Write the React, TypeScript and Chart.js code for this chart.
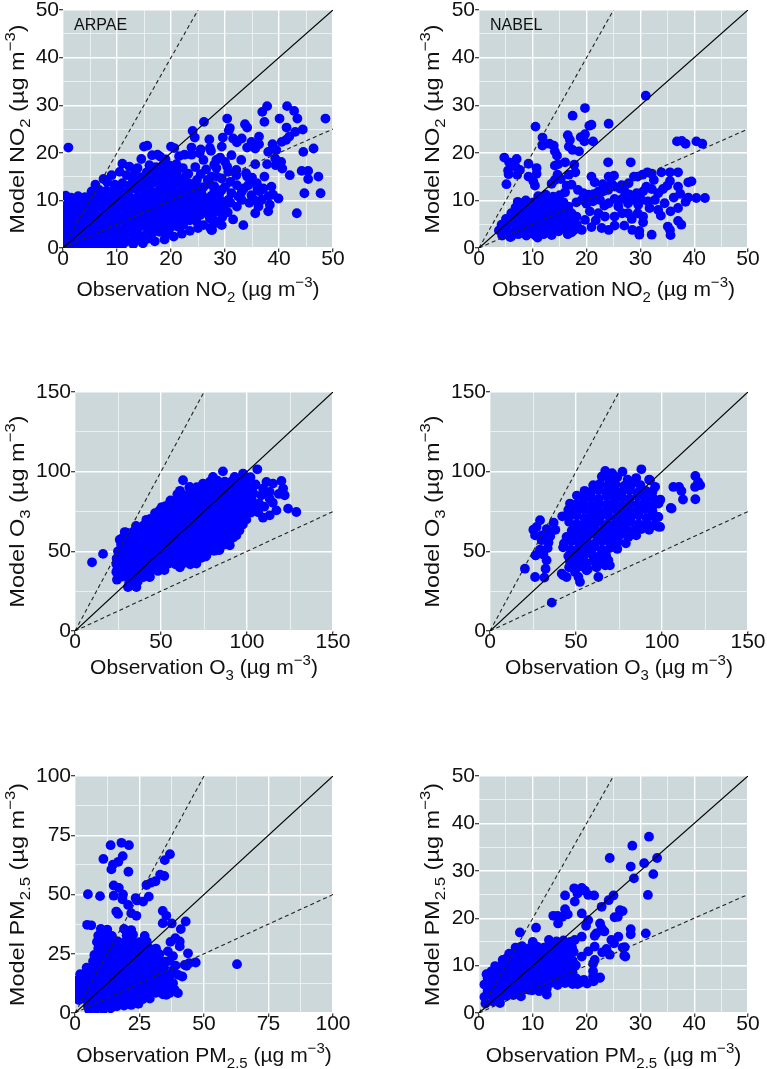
import React, { useEffect, useRef } from 'react';
import { Chart, registerables } from 'chart.js';
Chart.register(...registerables);

const FONT = '"Liberation Sans", Arial, Helvetica, sans-serif';
const BG = '#ccd8da';
const BLUE = '#0000ff';

// ---------- data (flat x,y pairs) ----------
const arpaeNO2: number[] = [
  0.3,0.4, 1.6,0.6, 3.0,0.3, 4.3,0.5, 5.7,0.4, 7.0,0.7, 8.4,0.3, 9.8,0.6, 11.1,0.8,
  0.8,1.8, 2.1,1.5, 3.5,1.9, 4.9,1.6, 6.2,1.7, 7.6,2.0, 9.0,1.5, 10.3,1.8, 11.7,1.4, 13.1,1.9, 14.4,1.6, 15.8,2.0,
  0.2,3.1, 1.5,2.9, 2.9,3.2, 4.2,2.8, 5.6,3.0, 7.0,3.3, 8.3,2.9, 9.7,3.1, 11.1,2.8, 12.4,3.2, 13.8,3.0, 15.2,2.7, 16.5,3.1, 17.9,3.4, 19.3,3.2,
  0.7,4.2, 2.0,4.5, 3.4,4.1, 4.8,4.4, 6.1,4.2, 7.5,4.6, 8.9,4.3, 10.2,4.0, 11.6,4.4, 13.0,4.2, 14.3,4.5, 15.7,4.1, 17.1,4.3, 18.4,4.6, 19.8,4.2, 21.2,4.5, 22.3,4.9,
  0.3,5.5, 1.6,5.8, 3.0,5.4, 4.4,5.7, 5.7,5.5, 7.1,5.9, 8.5,5.6, 9.8,5.3, 11.2,5.7, 12.6,5.5, 13.9,5.8, 15.3,5.4, 16.7,5.6, 18.0,5.9, 19.4,5.5, 20.8,5.7, 22.1,5.4, 23.5,5.8, 24.7,5.6,
  0.8,6.8, 2.2,7.1, 3.5,6.7, 4.9,7.0, 6.3,6.8, 7.6,7.2, 9.0,6.9, 10.4,6.6, 11.7,7.0, 13.1,6.8, 14.5,7.1, 15.8,6.7, 17.2,6.9, 18.6,7.2, 19.9,6.8, 21.3,7.0, 22.7,6.7, 24.0,7.1, 25.4,6.9, 26.6,7.3,
  0.4,8.1, 1.7,8.4, 3.1,8.0, 4.5,8.3, 5.8,8.1, 7.2,8.5, 8.6,8.2, 9.9,7.9, 11.3,8.3, 12.7,8.1, 14.0,8.4, 15.4,8.0, 16.8,8.2, 18.1,8.5, 19.5,8.1, 20.9,8.3, 22.2,8.0, 23.6,8.4, 25.0,8.2, 26.3,8.6, 27.6,8.3,
  0.9,9.4, 2.2,9.7, 3.6,9.3, 5.0,9.6, 6.4,9.4, 7.7,9.8, 9.1,9.5, 10.5,9.2, 11.8,9.6, 13.2,9.4, 14.6,9.7, 15.9,9.3, 17.3,9.5, 18.7,9.8, 20.0,9.4, 21.4,9.6, 22.8,9.3, 24.1,9.7, 25.5,9.5, 26.8,9.9,
  0.5,11.0, 1.5,10.6, 2.8,10.9, 4.1,10.7, 5.5,10.5, 6.9,10.8, 8.2,11.0, 9.6,10.7, 11.0,10.4, 12.3,10.8, 13.7,10.6, 15.1,10.9, 16.4,10.5, 17.8,10.7, 19.2,11.0, 20.5,10.6, 21.9,10.8, 23.3,10.5, 24.6,10.9, 26.0,10.7, 27.2,10.4,
  5.3,11.9, 6.7,12.2, 8.0,12.0, 9.4,12.3, 10.8,11.9, 12.1,12.1, 13.5,12.4, 14.9,12.0, 16.2,12.2, 17.6,11.9, 19.0,12.3, 20.3,12.1, 21.7,11.8, 23.1,12.2, 24.4,12.0, 25.6,11.7,
  9.6,13.3, 11.0,13.6, 12.4,13.2, 13.7,13.5, 15.1,13.3, 16.5,13.7, 17.8,13.4, 19.2,13.1, 20.6,13.5, 21.9,13.3, 23.3,13.6, 24.5,13.2,
  12.9,14.6, 14.3,14.9, 15.6,14.5, 17.0,14.8, 18.4,14.6, 19.7,14.9, 21.1,14.5, 22.4,14.8,
  15.5,15.9, 16.9,16.2, 18.2,15.8, 19.6,16.1, 21.0,15.9,
  1.0,21.1, 6.0,13.3, 7.5,14.5, 8.2,13.8, 9.0,15.3, 10.5,16.0, 11.0,17.7, 11.8,15.3, 12.3,17.1, 13.3,15.7, 13.8,16.8,
  14.5,18.7, 15.0,21.3, 15.6,21.5, 16.0,17.4, 16.5,19.5, 17.2,17.0, 17.5,19.6, 18.0,19.2, 18.6,17.5, 19.0,18.6, 19.8,17.3,
  20.0,21.3, 20.6,21.0, 21.0,17.6, 21.5,19.3, 22.2,16.8, 22.5,19.6, 23.2,15.6, 23.8,19.6, 24.5,17.0, 24.8,14.3, 25.3,19.9,
  25.5,15.5, 26.0,12.8, 26.0,18.5, 26.5,16.5, 27.0,13.5, 27.5,15.0, 27.6,10.0, 28.0,12.5, 28.0,17.5, 28.3,9.3, 29.0,11.5,
  29.0,8.2, 27.8,6.0, 28.5,5.3, 27.3,4.2, 27.6,3.8, 26.0,4.8, 25.0,4.2, 23.5,3.6, 22.0,3.0, 20.5,2.4, 18.8,1.8, 17.0,1.4, 14.8,1.0, 13.0,0.8,
  37.8,29.8, 41.5,29.8, 42.8,28.8, 36.9,28.6, 37.3,26.5, 43.4,27.2, 40.1,27.2, 48.6,27.2, 30.4,27.2, 26.1,26.5,
  41.4,25.3, 44.4,24.9, 43.0,24.4, 33.7,26.0, 34.1,25.3, 24.0,24.6, 24.4,23.2, 27.1,22.8, 30.7,24.7, 30.9,25.2,
  29.6,23.2, 31.5,23.0, 32.2,22.2, 33.1,23.0, 34.9,22.3, 36.3,23.4, 36.3,21.8, 40.5,22.3, 41.3,22.7, 41.9,23.4,
  38.8,21.8, 34.1,21.1, 35.6,20.9, 38.0,20.2, 39.5,20.6, 29.4,21.3, 27.4,20.4, 27.2,21.0, 25.5,20.7, 23.8,21.1,
  44.5,20.2, 46.4,20.9, 33.0,18.5, 31.2,19.5, 29.1,19.0, 30.0,18.1, 28.4,18.5, 35.6,17.6, 37.8,17.6, 39.3,18.8,
  39.4,17.4, 40.4,18.1, 40.6,16.7, 42.0,15.3, 44.2,16.2, 45.4,16.2, 47.3,15.0, 45.4,14.5, 44.7,11.5, 47.7,11.5,
  43.3,7.3, 39.9,10.4, 38.6,12.9, 38.0,10.9, 37.1,12.5, 35.9,13.6, 34.3,13.2, 34.1,15.0, 32.1,15.3, 30.6,16.0,
  29.4,14.6, 31.0,13.9, 32.2,13.2, 33.1,11.8, 31.2,11.5, 29.4,12.2, 29.1,10.1, 30.6,10.1, 32.2,8.7, 33.1,10.1,
  34.9,11.1, 36.2,8.7, 36.8,10.1, 35.6,7.3, 33.4,4.8, 29.4,4.8, 27.5,3.8, 28.5,5.5, 27.2,6.2, 29.9,8.7, 28.1,7.6,
  38.0,7.7, 38.3,9.1, 36.4,11.9, 38.9,11.2, 37.3,15.0, 33.9,15.7, 30.4,17.1, 32.1,16.4, 28.4,16.8,
  26.5,9.5, 27.5,11.0, 28.0,13.0, 29.5,6.5, 30.5,7.5, 31.5,6.0, 31.0,9.5, 32.5,10.8, 30.0,12.8, 33.5,12.5,
  28.5,15.0, 26.8,14.3, 27.8,9.0, 26.2,7.8, 34.5,9.5, 35.5,10.0, 36.0,12.5, 35.0,14.8,
];

const nabelNO2: number[] = [
  31.0,32.0, 19.7,29.4, 17.4,27.8, 24.1,26.1, 10.5,25.5, 20.5,25.7, 20.9,25.9, 19.7,23.9, 16.5,23.7, 18.9,23.3,
  11.8,23.2, 21.2,22.4, 11.8,21.5, 13.1,21.9, 13.9,21.5, 14.1,20.3, 16.9,22.7, 16.7,21.3, 17.4,20.6, 18.6,20.3,
  19.6,22.4, 14.5,19.4, 14.1,17.3, 14.7,17.6, 16.0,18.0, 17.7,17.5, 24.0,18.0, 28.2,18.0, 40.4,22.4, 36.8,22.4,
  37.7,22.5, 38.4,21.9, 41.5,21.9, 42.0,10.5, 4.7,19.0, 5.6,18.0, 7.0,18.7, 9.2,17.7, 6.8,17.1, 7.6,16.4,
  7.1,15.4, 5.4,16.3, 5.5,15.5, 5.1,13.4, 10.7,16.8, 10.7,15.6, 10.1,14.0, 9.2,15.0, 10.4,13.1, 14.6,15.4,
  14.1,14.3, 13.5,13.5, 15.2,14.5, 16.7,15.4, 17.9,15.9, 17.2,13.3, 16.3,13.1, 16.0,11.7, 20.9,15.0, 24.1,15.0,
  25.1,15.2, 24.6,13.6, 28.8,15.0, 29.5,15.0, 30.4,15.4, 31.3,15.9, 32.1,15.6, 32.5,14.3, 33.9,15.9, 35.5,15.9,
  37.0,15.9, 35.5,14.1, 35.0,13.1, 37.0,12.9, 37.4,11.4, 38.9,13.8, 39.5,14.0, 35.6,7.7, 37.0,8.4, 38.4,9.7,
  38.9,10.6, 40.4,10.5, 37.0,5.7, 37.6,4.9, 35.1,4.5, 35.5,3.8, 35.6,2.7, 32.1,2.8, 29.8,2.8, 29.8,3.6,
  28.5,3.8, 27.0,4.7, 25.2,4.7, 24.1,3.8, 22.8,4.2, 20.9,4.4, 19.1,3.8, 17.2,3.3, 16.5,2.9, 10.9,2.2,
  5.8,2.3, 4.3,2.6, 9.8,3.1,
  18.4,12.2, 19.4,11.5, 20.3,11.2, 21.3,11.3, 22.2,11.9, 23.1,11.9, 24.0,12.2, 25.2,12.9, 26.2,12.5, 27.1,11.9,
  28.0,11.2, 29.3,11.5, 30.5,11.9, 31.1,12.9, 32.1,12.4, 33.3,11.5, 32.7,10.1, 31.4,9.8, 30.2,10.1, 29.6,9.1,
  28.7,10.1, 27.7,9.4, 26.6,10.3, 25.9,8.7, 25.2,10.3, 24.1,9.4, 23.3,8.9, 22.5,10.1, 21.2,9.8, 20.0,9.3,
  19.1,10.1, 18.1,9.6, 20.6,7.7, 22.2,7.3, 23.4,6.6, 25.2,6.6, 26.6,7.3, 27.7,7.3, 29.5,7.3, 30.5,6.6,
  31.7,8.4, 33.3,8.0, 28.4,6.1, 30.5,5.4, 19.7,5.9, 21.7,5.8, 18.1,6.6, 17.7,5.1,
  34.2,12.4, 36.2,10.6, 34.5,9.4, 33.8,6.8, 26.5,13.2, 23.0,13.4, 21.5,13.8, 27.8,13.6,
  4.5,2.8, 6.0,2.4, 7.3,2.9, 8.8,2.6, 10.5,2.6, 12.0,2.9, 13.5,2.7,
  3.7,3.7, 5.1,3.9, 6.5,3.5, 7.9,3.8, 9.3,3.6, 10.6,3.9, 12.0,3.6, 13.4,3.8, 14.8,3.5, 16.2,3.9, 17.6,3.7,
  4.2,4.9, 5.6,5.2, 7.0,4.7, 8.4,5.0, 9.8,4.8, 11.2,5.1, 12.6,4.7, 14.0,5.0, 15.4,4.8, 16.8,5.2, 18.2,4.9,
  5.0,6.1, 6.4,6.4, 7.8,6.0, 9.2,6.3, 10.6,6.1, 12.0,6.4, 13.4,6.0, 14.8,6.3, 16.2,6.1, 17.6,6.4,
  6.0,7.3, 7.4,7.6, 8.8,7.2, 10.2,7.5, 11.6,7.3, 13.0,7.6, 14.4,7.2, 15.8,7.5, 17.2,7.3,
  6.8,8.5, 8.2,8.8, 9.6,8.4, 11.0,8.7, 12.4,8.5, 13.8,8.8, 15.2,8.4, 16.6,8.7,
  7.2,9.7, 8.7,10.0, 10.1,9.6, 11.5,9.9, 12.9,9.7, 14.3,10.0, 15.7,9.6,
  11.0,10.9, 12.4,11.2, 13.8,10.8, 15.0,11.1,
];

const arpaeO3: number[] = [
  31.8,28.3, 35.7,27.6, 33.7,31.8, 31.5,30.5, 36.5,31.0,
  27.5,34.2, 31.5,33.8, 35.5,34.3, 39.5,33.7, 43.5,34.1,
  24.5,38.0, 26.8,38.3, 31.0,37.7, 35.3,38.2, 39.6,37.8, 43.9,38.3, 48.2,37.7, 52.0,38.2,
  24.0,42.0, 28.3,42.3, 32.6,41.7, 36.9,42.2, 41.2,41.8, 45.5,42.3, 49.8,41.7, 54.1,42.2, 58.4,41.8, 62.7,42.3, 67.0,41.9,
  24.2,45.5, 26.2,46.2, 30.5,45.8, 34.8,46.3, 39.1,45.7, 43.4,46.2, 47.7,45.8, 52.0,46.3, 56.3,45.7, 60.6,46.2, 64.9,45.8, 69.2,46.3, 73.5,45.9, 76.0,46.8,
  25.0,50.0, 29.3,50.3, 33.6,49.7, 37.9,50.2, 42.2,49.8, 46.5,50.3, 50.8,49.7, 55.1,50.2, 59.4,49.8, 63.7,50.3, 68.0,49.7, 72.3,50.2, 76.6,49.8, 80.9,50.3, 84.0,50.8,
  26.8,54.2, 31.0,53.8, 35.3,54.3, 39.6,53.7, 43.9,54.2, 48.2,53.8, 52.5,54.3, 56.8,53.7, 61.1,54.2, 65.4,53.8, 69.7,54.3, 74.0,53.7, 78.3,54.2, 82.6,53.8, 86.9,54.3, 89.5,54.8,
  27.5,58.3, 31.8,57.7, 36.1,58.2, 40.4,57.8, 44.7,58.3, 49.0,57.7, 53.3,58.2, 57.6,57.8, 61.9,58.3, 66.2,57.7, 70.5,58.2, 74.8,57.8, 79.1,58.3, 83.4,57.7, 87.7,58.2, 92.0,58.6,
  29.8,61.8, 33.7,62.2, 38.0,61.7, 42.3,62.3, 46.6,61.8, 50.9,62.2, 55.2,61.7, 59.5,62.3, 63.8,61.8, 68.1,62.2, 72.4,61.7, 76.7,62.3, 81.0,61.8, 85.3,62.2, 89.6,61.7, 93.9,62.3, 95.6,63.0,
  35.5,66.0, 39.8,66.3, 44.1,65.7, 48.4,66.2, 52.7,65.8, 57.0,66.3, 61.3,65.7, 65.6,66.2, 69.9,65.8, 74.2,66.3, 78.5,65.7, 82.8,66.2, 87.1,65.8, 91.4,66.3, 95.7,65.7, 97.6,66.8,
  41.5,69.8, 43.7,70.3, 48.0,69.7, 52.3,70.2, 56.6,69.8, 60.9,70.3, 65.2,69.7, 69.5,70.2, 73.8,69.8, 78.1,70.3, 82.4,69.7, 86.7,70.2, 91.0,69.8, 95.3,70.3, 99.6,69.9,
  46.5,74.0, 50.8,74.3, 55.1,73.7, 59.4,74.2, 63.7,73.8, 68.0,74.3, 72.3,73.7, 76.6,74.2, 80.9,73.8, 85.2,74.3, 89.5,73.7, 93.8,74.2, 98.1,73.8, 102.4,74.3,
  50.5,77.8, 52.7,78.3, 57.0,77.7, 61.3,78.2, 65.6,77.8, 69.9,78.3, 74.2,77.7, 78.5,78.2, 82.8,77.8, 87.1,78.3, 91.4,77.7, 95.7,78.2, 100.0,77.8, 103.8,78.3,
  55.5,82.0, 59.8,82.3, 64.1,81.7, 68.4,82.2, 72.7,81.8, 77.0,82.3, 81.3,81.7, 85.6,82.2, 89.9,81.8, 94.2,82.3, 98.5,81.7, 102.8,82.2,
  59.5,85.8, 61.7,86.3, 66.0,85.7, 70.3,86.2, 74.6,85.8, 78.9,86.3, 83.2,85.7, 87.5,86.2, 91.8,85.8, 96.1,86.3, 100.4,85.7, 103.8,86.2,
  66.5,90.0, 70.8,90.3, 75.1,89.7, 79.4,90.2, 83.7,89.8, 88.0,90.3, 92.3,89.7, 96.6,90.2, 100.9,89.8, 103.5,90.5,
  78.5,93.8, 82.8,94.3, 87.1,93.7, 91.4,94.2, 95.7,93.8, 99.5,94.0,
  9.9,43.1, 16.3,48.4, 25.0,42.7, 24.0,37.0, 24.4,32.2, 29.8,56.9, 29.5,61.8, 28.9,62.1, 26.0,57.3, 35.7,64.2,
  41.5,67.4, 49.2,75.8, 55.1,80.0, 61.0,88.0, 62.8,94.6, 66.7,90.4, 74.4,92.5, 80.2,96.7, 86.0,100.2, 92.8,96.7,
  97.7,98.8, 106.0,101.5, 109.3,89.4, 111.3,93.5, 115.1,92.5, 120.0,94.2, 121.0,89.4, 121.9,85.2, 113.2,83.0, 108.3,85.2,
  113.2,87.3, 123.9,76.8, 128.7,74.7, 117.1,75.7, 113.2,72.6, 109.3,71.1, 107.0,80.0, 110.0,78.0, 106.5,74.5, 115.0,80.5,
  118.5,86.0, 105.0,92.0, 102.0,96.5, 90.0,53.8, 93.8,60.0, 82.2,50.6, 76.4,47.5, 70.6,42.3, 61.0,40.0, 43.4,33.9, 30.8,27.6,
];

const nabelO3: number[] = [
  67.0,100.5, 71.0,99.0, 77.0,100.0, 88.0,101.5,
  65.0,97.0, 69.0,95.5, 74.0,96.5, 80.0,95.0, 85.0,96.0, 92.5,95.0,
  60.0,91.5, 64.0,92.5, 68.5,91.0, 73.0,92.0, 78.0,91.0, 83.0,92.5, 87.5,91.5, 96.0,90.5,
  55.0,88.0, 59.0,87.5, 63.5,88.5, 68.0,87.0, 72.5,88.0, 77.0,87.5, 81.5,88.5, 86.0,87.0, 90.5,88.0, 94.5,87.5,
  50.5,85.0, 54.0,83.5, 58.5,84.0, 63.0,83.0, 67.5,84.5, 72.0,83.5, 76.5,84.0, 81.0,83.0, 85.5,84.5, 90.0,83.5, 94.5,84.0, 99.0,82.5,
  46.5,80.0, 50.0,79.5, 54.5,80.5, 59.0,79.0, 63.5,80.0, 68.0,79.5, 72.5,80.5, 77.0,79.0, 81.5,80.0, 86.0,79.5, 90.5,80.5, 95.0,79.0, 98.0,80.0,
  45.5,76.0, 49.5,75.5, 54.0,76.5, 58.5,75.0, 63.0,76.0, 67.5,75.5, 72.0,76.5, 76.5,75.0, 81.0,76.0, 85.5,75.5, 90.0,76.5, 94.5,75.0,
  42.0,72.0, 46.0,71.5, 50.5,72.5, 55.0,71.0, 59.5,72.0, 64.0,71.5, 68.5,72.5, 73.0,71.0, 77.5,72.0, 82.0,71.5, 86.5,72.5, 91.0,71.0, 95.0,72.0, 97.5,71.5,
  37.0,68.0, 46.0,68.5, 50.5,67.0, 55.0,68.0, 59.5,67.5, 64.0,68.5, 68.5,67.0, 73.0,68.0, 77.5,67.5, 82.0,68.5, 86.5,67.0, 91.0,68.0, 95.5,66.5,
  33.0,64.0, 38.0,63.5, 47.5,63.0, 52.0,64.0, 56.5,63.5, 61.0,64.5, 65.5,63.0, 70.0,64.0, 74.5,63.5, 79.0,64.5, 83.5,63.0, 88.0,64.0, 92.5,63.5, 97.5,65.5,
  30.0,60.0, 35.0,59.5, 44.5,59.0, 49.0,60.0, 53.5,59.5, 58.0,60.5, 62.5,59.0, 67.0,60.0, 71.5,59.5, 76.0,60.5, 80.5,59.0, 85.0,60.0,
  30.0,57.0, 34.0,55.5, 43.0,55.0, 47.5,56.5, 52.0,55.5, 56.5,56.0, 61.0,55.0, 65.5,56.5, 70.0,55.5, 74.5,56.0, 79.0,55.0,
  29.0,51.0, 33.5,52.0, 42.5,52.5, 47.0,51.0, 51.5,52.0, 56.0,51.5, 60.5,52.5, 65.0,51.0, 69.5,52.0, 74.0,51.5,
  26.5,47.5, 31.0,48.0, 45.5,47.0, 50.0,48.0, 54.5,47.5, 59.0,48.5, 63.5,47.0, 67.5,47.5,
  32.9,44.4, 46.5,43.5, 51.0,44.5, 55.5,43.0, 60.0,44.0, 64.5,43.5, 68.8,44.4,
  32.3,39.1, 46.0,40.0, 50.0,39.5, 53.5,40.5, 57.0,39.0, 62.0,40.0, 67.0,41.2, 69.7,41.2,
  20.3,39.1, 26.2,33.9, 31.6,33.5, 35.9,17.8, 29.1,69.5, 27.1,65.3, 25.2,63.6, 26.2,60.0, 26.6,47.5, 29.7,50.6,
  41.7,36.0, 42.6,34.9, 44.5,33.9, 49.4,37.0, 51.4,33.9, 52.3,30.8, 56.2,38.1, 63.0,33.9,
  105.1,77.2, 109.9,90.4, 111.3,87.9, 112.2,82.5, 119.4,97.3, 121.0,93.6, 122.2,91.5, 119.4,82.7, 106.6,90.4, 98.9,65.3,
  105.6,76.8, 119.2,90.4, 93.0,94.6, 98.8,82.0, 97.9,71.6,
];

const arpaePM25: number[] = [
  5.5,1.2, 8.3,1.8, 11.0,1.5, 13.8,2.0,
  5.0,2.8, 7.8,3.2, 10.6,2.9, 13.4,3.3, 16.2,2.8, 19.0,3.1, 21.8,3.4, 24.6,3.9,
  1.5,5.5, 3.8,5.9, 6.6,5.6, 9.4,6.0, 12.2,5.5, 15.0,5.8, 17.8,5.6, 20.6,6.0, 23.4,5.5, 26.2,5.8, 29.0,6.1,
  0.8,8.3, 3.3,8.6, 6.1,8.2, 8.9,8.5, 11.7,8.3, 14.5,8.7, 17.3,8.2, 20.1,8.5, 22.9,8.3, 25.7,8.6, 28.5,8.2, 31.3,8.5, 34.1,7.9, 35.4,7.7,
  0.5,11.0, 2.3,11.3, 5.1,10.9, 7.9,11.2, 10.7,11.0, 13.5,11.4, 16.3,10.9, 19.1,11.2, 21.9,11.0, 24.7,11.3, 27.5,10.9, 30.3,11.2, 33.1,11.0, 35.9,11.3, 38.6,9.8,
  0.8,13.7, 3.3,14.0, 6.1,13.6, 8.9,13.9, 11.7,13.7, 14.5,14.1, 17.3,13.6, 20.1,13.9, 22.9,13.7, 25.7,14.0, 28.5,13.6, 31.3,13.9, 34.1,13.7, 36.7,12.9,
  2.0,16.4, 4.6,16.7, 7.4,16.3, 10.2,16.6, 13.0,16.4, 15.8,16.8, 18.6,16.3, 21.4,16.6, 24.2,16.4, 27.0,16.7, 29.8,16.3, 32.6,16.6, 35.4,16.4, 38.0,18.2,
  4.5,19.1, 6.5,19.4, 9.3,19.0, 12.1,19.3, 14.9,19.1, 17.7,19.5, 20.5,19.0, 23.3,19.3, 26.1,19.1, 28.9,19.4, 31.7,19.0, 34.5,19.3,
  7.0,21.8, 9.8,22.1, 12.6,21.7, 15.4,22.0, 18.2,21.8, 21.0,22.2, 23.8,21.7, 26.6,22.0, 29.4,21.8, 32.2,22.1, 35.0,21.7,
  7.5,24.5, 10.3,24.8, 13.1,24.4, 15.9,24.7, 18.7,24.5, 21.5,24.9, 24.3,24.4, 27.1,24.7, 29.9,24.5, 32.7,24.8,
  9.0,27.2, 11.8,27.5, 14.6,27.1, 17.4,27.4, 20.2,27.2, 23.0,27.6, 25.8,27.1, 28.6,27.4, 31.4,27.2,
  8.5,30.0, 11.0,30.3, 13.8,29.9, 16.6,30.2, 19.4,30.0, 22.2,30.4, 25.0,29.9, 27.8,30.2,
  9.0,32.6, 11.5,33.0, 14.3,32.5, 20.0,32.8, 22.5,33.0, 27.0,32.5,
  10.0,35.5, 12.5,35.2, 19.0,35.5, 21.8,35.0,
  4.7,37.2, 6.3,37.0, 21.8,42.1, 16.0,42.8, 16.7,41.8, 23.8,41.0, 34.0,43.1, 35.4,41.0, 34.0,37.9, 37.5,37.8,
  42.9,38.6, 41.0,35.4, 38.9,31.6, 40.6,30.2, 40.6,28.1, 43.8,25.2, 46.8,21.3, 43.2,19.9, 41.6,15.4, 42.5,20.3,
  44.2,21.0, 40.0,16.1, 38.0,12.6, 36.7,8.4, 39.9,8.4, 62.8,20.6, 37.0,30.0, 36.0,26.0, 38.0,24.0, 36.5,22.0,
  39.0,20.0, 37.0,16.0,
  11.0,65.0, 18.5,66.2, 14.7,62.6, 14.1,60.6, 16.8,63.8, 20.7,59.6, 36.8,67.0, 34.8,64.5, 33.0,58.4, 34.6,57.8,
  31.2,55.6, 29.6,55.0, 27.7,54.0, 15.0,53.8, 17.0,52.8, 5.0,50.1, 9.7,49.3, 15.0,49.5, 18.6,50.0, 18.4,48.0,
  20.6,45.6, 24.0,47.5, 26.4,47.0, 28.6,49.1, 23.5,48.5, 13.8,70.8, 18.0,71.8, 20.9,70.8,
];

const nabelPM25: number[] = [
  1.2,2.0, 2.6,2.4, 3.9,2.1,
  1.0,3.4, 2.3,3.7, 3.7,3.3, 5.1,3.6, 6.4,3.8, 7.8,3.5,
  1.6,4.7, 3.0,5.0, 4.4,4.6, 5.8,4.9, 7.1,4.7, 8.5,5.0, 9.9,4.8, 11.2,4.6, 12.6,5.1,
  1.0,6.0, 2.3,6.3, 3.7,5.9, 5.1,6.2, 6.4,6.0, 7.8,6.3, 9.2,5.9, 10.5,6.2, 11.9,6.0, 13.3,6.3, 14.6,5.9, 16.0,6.3, 17.4,6.1, 18.7,6.4, 20.1,6.2, 21.3,6.7,
  1.6,7.3, 3.0,7.6, 4.4,7.2, 5.8,7.5, 7.1,7.3, 8.5,7.6, 9.9,7.2, 11.2,7.5, 12.6,7.3, 14.0,7.6, 15.3,7.2, 16.7,7.5, 18.1,7.3, 19.5,7.0,
  1.4,8.2, 2.3,8.8, 3.7,8.5, 5.1,8.8, 6.4,8.6, 7.8,8.9, 9.2,8.5, 10.5,8.8, 11.9,8.6, 13.3,8.9, 14.6,8.5, 16.0,8.8, 17.4,8.6,
  3.0,9.9, 4.4,10.2, 5.8,9.8, 7.1,10.1, 8.5,9.9, 9.9,10.2, 11.2,9.8, 12.6,10.1, 14.0,9.9, 15.3,10.2, 16.7,9.8, 18.0,10.1,
  4.4,11.2, 5.1,11.5, 6.4,11.1, 7.8,11.4, 9.2,11.2, 10.5,11.5, 11.9,11.1, 13.3,11.4, 14.6,11.2, 16.0,11.5, 17.4,11.1,
  5.6,12.5, 7.1,12.8, 8.5,12.4, 9.9,12.7, 11.2,12.5, 12.6,12.8, 14.0,12.4, 15.3,12.7, 16.7,12.5, 17.6,12.9,
  6.8,13.8, 8.0,14.1, 9.4,13.7, 10.8,14.0, 12.1,13.8, 13.5,14.1, 14.9,13.7, 16.2,14.0, 17.3,13.8,
  10.0,15.0, 13.0,15.4, 14.4,15.1, 15.7,15.3, 17.0,15.0,
  7.6,17.0, 10.6,18.0, 13.8,20.5, 14.6,20.5, 14.7,18.9, 16.0,24.8, 16.0,21.9, 16.5,20.8, 17.7,26.3, 19.1,26.4,
  19.7,25.8, 18.3,25.2, 20.3,24.9, 21.4,24.8, 19.1,21.0, 22.8,22.4, 19.9,18.4, 21.5,16.3, 23.3,17.2, 24.6,15.4,
  25.1,14.7, 22.9,12.8, 21.2,10.4, 21.2,7.7, 22.4,7.4, 18.3,6.1, 12.6,3.9, 9.3,4.9,
  31.6,37.2, 28.5,35.3, 24.3,32.7, 33.1,32.7, 28.2,30.9, 30.7,31.6, 28.8,28.4, 32.4,29.3, 31.4,24.9, 25.0,24.8,
  24.1,23.8, 26.7,21.5, 25.8,20.3, 28.2,16.6, 31.0,16.8, 26.7,13.8, 27.2,11.9, 26.2,21.7, 25.2,20.2, 28.2,17.7,
  25.9,16.1, 27.1,13.9, 27.0,12.1, 21.8,16.8, 21.5,11.2, 21.2,8.8, 22.5,7.5, 18.4,6.3,
  20.3,19.6, 22.5,18.9, 17.8,23.5, 15.5,20.3, 22.8,17.9, 21.5,14.0, 20.3,13.0, 19.1,11.9, 23.7,13.5, 24.3,12.3,
  17.8,15.4, 19.1,16.1,
];

// axes: [max, labelled step, minor step]
const no2Axis = [50, 10, 5];
const o3Axis = [150, 50, 25];
const pmArpaeAxis = [100, 25, 12.5];
const pmNabelAxis = [50, 10, 5];
// reference line slopes (1:1, 2:1, 1:2)
const refSlopes = [1, 2, 0.5];

type Seg = { t: string; s?: 'sub' | 'sup' };
const UNIT: Seg[] = [{ t: ' (µg m' }, { t: '\u22123', s: 'sup' }, { t: ')' }];
const title = (pre: string, sub: string): Seg[] => [{ t: pre }, { t: sub, s: 'sub' }, ...UNIT];

interface PanelCfg {
  data: number[];
  axis: number[];
  box: number[]; // plot area L,T,R,B on the page
  xTitle: Seg[];
  yTitle: Seg[];
  label?: string;
  xTitleBase: number;
  yTitleBase: number;
}

const PANELS: PanelCfg[] = [
  { data: arpaeNO2, axis: no2Axis, box: [63, 10, 333, 248], xTitle: title('Observation NO', '2'), yTitle: title('Model NO', '2'), label: 'ARPAE', xTitleBase: 296, yTitleBase: 24 },
  { data: nabelNO2, axis: no2Axis, box: [479, 10, 748, 248], xTitle: title('Observation NO', '2'), yTitle: title('Model NO', '2'), label: 'NABEL', xTitleBase: 296, yTitleBase: 439 },
  { data: arpaeO3, axis: o3Axis, box: [75, 392, 333, 631], xTitle: title('Observation O', '3'), yTitle: title('Model O', '3'), xTitleBase: 674, yTitleBase: 24 },
  { data: nabelO3, axis: o3Axis, box: [490, 392, 748, 631], xTitle: title('Observation O', '3'), yTitle: title('Model O', '3'), xTitleBase: 674, yTitleBase: 439 },
  { data: arpaePM25, axis: pmArpaeAxis, box: [75, 776, 333, 1013], xTitle: title('Observation PM', '2.5'), yTitle: title('Model PM', '2.5'), xTitleBase: 1062, yTitleBase: 24 },
  { data: nabelPM25, axis: pmNabelAxis, box: [479, 776, 748, 1013], xTitle: title('Observation PM', '2.5'), yTitle: title('Model PM', '2.5'), xTitleBase: 1062, yTitleBase: 439 },
];

const TITLE_SIZE = 21;
const TICK_SIZE = 21;
const Y_TITLE_STRETCH = 1.12;
const POINT_R = 4.9;

function drawRich(ctx: CanvasRenderingContext2D, segs: Seg[], size: number, cx: number, by: number) {
  const main = `${size}px ${FONT}`;
  const small = `${Math.round(size * 0.7)}px ${FONT}`;
  let w = 0;
  for (const s of segs) { ctx.font = s.s ? small : main; w += ctx.measureText(s.t).width; }
  let x = cx - w / 2;
  for (const s of segs) {
    ctx.font = s.s ? small : main;
    const dy = s.s === 'sub' ? size * 0.3 : s.s === 'sup' ? -size * 0.42 : 0;
    ctx.fillText(s.t, x, by + dy);
    x += ctx.measureText(s.t).width;
  }
}

const PADL = 80, PADT = 25, PADR = 22, PADB = 66;

function Panel({ cfg }: { cfg: PanelCfg }) {
  const ref = useRef<HTMLCanvasElement | null>(null);
  const [L, T, R, B] = cfg.box;
  const W = R - L + PADL + PADR;
  const H = B - T + PADT + PADB;
  const offX = L - PADL;
  const offY = T - PADT;

  useEffect(() => {
    const [max, major, minor] = cfg.axis;
    const pts: { x: number; y: number }[] = [];
    for (let i = 0; i < cfg.data.length; i += 2) pts.push({ x: cfg.data[i], y: cfg.data[i + 1] });
    const lines = refSlopes.map((k) => (k >= 1 ? [{ x: 0, y: 0 }, { x: max / k, y: max }] : [{ x: 0, y: 0 }, { x: max, y: max * k }]));
    const isMajor = (v: number) => Math.abs(v / major - Math.round(v / major)) < 1e-6;

    const axisOpts = (isX: boolean) => ({
      type: 'linear' as const,
      min: 0,
      max,
      ticks: {
        stepSize: minor,
        autoSkip: false,
        maxRotation: 0,
        padding: isX ? -5 : 0,
        color: '#111111',
        font: { family: FONT, size: TICK_SIZE },
        callback: (v: any) => (isMajor(Number(v)) ? String(v) : ''),
      },
      grid: {
        color: (c: any) => (isMajor(c.tick ? c.tick.value : 0) ? '#ffffff' : 'rgba(255,255,255,0.85)'),
        lineWidth: (c: any) => (isMajor(c.tick ? c.tick.value : 0) ? 1.4 : 0.7),
        tickLength: 4,
        tickWidth: 1.2,
        tickColor: (c: any) => (isMajor(c.tick ? c.tick.value : 0) ? '#333333' : 'rgba(0,0,0,0)'),
      },
      border: { display: false },
      afterFit: (s: any) => {
        if (isX) s.height = PADB; else s.width = PADL;
      },
    });

    const textPlugin = {
      id: 'panelText',
      beforeDraw(chart: any) {
        const { ctx, chartArea: a } = chart;
        ctx.save();
        ctx.fillStyle = BG;
        ctx.fillRect(a.left, a.top, a.right - a.left, a.bottom - a.top);
        ctx.restore();
      },
      afterDraw(chart: any) {
        const { ctx, chartArea: a } = chart;
        ctx.save();
        ctx.fillStyle = '#111111';
        ctx.textAlign = 'left';
        ctx.textBaseline = 'alphabetic';
        drawRich(ctx, cfg.xTitle, TITLE_SIZE, (a.left + a.right) / 2, cfg.xTitleBase - offY);
        ctx.save();
        ctx.translate(cfg.yTitleBase - offX, (a.top + a.bottom) / 2);
        ctx.rotate(-Math.PI / 2);
        ctx.scale(Y_TITLE_STRETCH, 1);
        drawRich(ctx, cfg.yTitle, TITLE_SIZE, 0, 0);
        ctx.restore();
        if (cfg.label) {
          ctx.font = `16px ${FONT}`;
          ctx.fillText(cfg.label, a.left + 11, a.top + 20);
        }
        ctx.restore();
      },
    };

    const lineDs = lines.map((d, i) => ({
      type: 'line' as const,
      data: d,
      borderColor: i === 0 ? '#000000' : '#222222',
      borderWidth: i === 0 ? 1.2 : 1.1,
      borderDash: i === 0 ? [] : [4, 3],
      pointRadius: 0,
      showLine: true,
      fill: false,
      clip: 0,
    }));

    const chart = new Chart(ref.current as HTMLCanvasElement, {
      type: 'scatter',
      data: {
        datasets: [
          ...lineDs,
          {
            type: 'scatter' as const,
            data: pts,
            backgroundColor: BLUE,
            borderWidth: 0,
            pointRadius: POINT_R,
            pointBorderWidth: 0,
            pointHoverRadius: POINT_R,
            clip: 0,
          },
        ] as any,
      },
      options: {
        responsive: false,
        animation: false,
        events: [],
        layout: { padding: { left: 0, top: PADT, right: PADR, bottom: 0 } },
        plugins: { legend: { display: false }, tooltip: { enabled: false } },
        scales: { x: axisOpts(true), y: axisOpts(false) } as any,
      },
      plugins: [textPlugin],
    });
    return () => chart.destroy();
  }, []);

  return (
    <canvas
      ref={ref}
      width={W}
      height={H}
      style={{ position: 'absolute', left: offX, top: offY, width: W, height: H }}
    />
  );
}

export default function App() {
  return (
    <div style={{ position: 'absolute', left: 0, top: 0, width: 767, height: 1069, background: '#ffffff', overflow: 'hidden' }}>
      {PANELS.map((p, i) => (
        <Panel key={i} cfg={p} />
      ))}
    </div>
  );
}
